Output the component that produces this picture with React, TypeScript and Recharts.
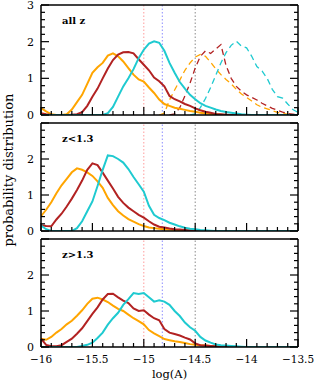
import React from "react";
import { LineChart, Line, XAxis, YAxis, ReferenceLine } from "recharts";

// log(A) grid, step 0.05
const X = [
  -16, -15.95, -15.9, -15.85, -15.8, -15.75, -15.7, -15.65, -15.6, -15.55,
  -15.5, -15.45, -15.4, -15.35, -15.3, -15.25, -15.2, -15.15, -15.1, -15.05,
  -15, -14.95, -14.9, -14.85, -14.8, -14.75, -14.7, -14.65, -14.6, -14.55,
  -14.5, -14.45, -14.4, -14.35, -14.3, -14.25, -14.2, -14.15, -14.1, -14.05,
  -14, -13.95, -13.9, -13.85, -13.8, -13.75, -13.7, -13.65, -13.6, -13.55,
  -13.5,
];

// all z
const O1 = [
  0.19, 0.1, 0.02, 0, 0, 0.02, 0.15, 0.35, 0.55, 0.85,
  1.15, 1.3, 1.42, 1.62, 1.68, 1.6, 1.46, 1.28, 1.1, 0.97,
  0.91, 0.75, 0.6, 0.42, 0.3, 0.25, 0.2, 0.17, 0.14, 0.11,
  0.09, 0.06, 0.04, 0.03, 0.02, 0.01, 0, 0, 0, 0,
  0, 0, 0, 0, 0, 0, 0, 0, 0, 0, 0,
];
const R1 = [
  0.05, 0.02, 0, 0, 0, 0, 0.01, 0.02, 0.08, 0.25,
  0.5, 0.72, 1.0, 1.27, 1.5, 1.65, 1.71, 1.72, 1.68, 1.52,
  1.37, 1.22, 1.02, 0.92, 0.78, 0.52, 0.43, 0.37, 0.3, 0.25,
  0.18, 0.13, 0.09, 0.06, 0.03, 0.02, 0.01, 0, 0, 0,
  0, 0, 0, 0, 0, 0, 0, 0, 0, 0, 0,
];
const C1 = [
  0, 0, 0, 0, 0, 0, 0, 0, 0, 0,
  0, 0, 0, 0.05, 0.22, 0.5, 0.78, 1.0, 1.25, 1.55,
  1.78, 1.95, 2.01, 1.97, 1.75, 1.42, 1.15, 0.9, 0.72, 0.55,
  0.43, 0.32, 0.25, 0.2, 0.15, 0.11, 0.08, 0.06, 0.04, 0.02,
  0.01, 0, 0, 0, 0, 0, 0, 0, 0, 0, 0,
];
const OD1 = [
  null, null, null, null, null, null, null, null, null, null,
  null, null, null, null, null, null, null, null, null, null,
  null, null, null, 0, 0.05, 0.41, 0.68, 0.95, 1.22, 1.42,
  1.58, 1.65, 1.6, 1.44, 1.26, 1.1, 0.97, 0.85, 0.7, 0.57,
  0.48, 0.38, 0.28, 0.21, 0.17, 0.12, 0.07, 0.04, 0.02, 0.01, 0,
];
const RD1 = [
  null, null, null, null, null, null, null, null, null, null,
  null, null, null, null, null, null, null, null, null, null,
  null, null, null, null, null, 0, 0.03, 0.2, 0.52, 0.87,
  1.28, 1.6, 1.75, 1.68, 1.8, 1.92, 1.35, 1.0, 0.78, 0.65,
  0.55, 0.48, 0.41, 0.32, 0.25, 0.18, 0.13, 0.08, 0.04, 0.02, 0,
];
const CD1 = [
  null, null, null, null, null, null, null, null, null, null,
  null, null, null, null, null, null, null, null, null, null,
  null, null, null, null, null, null, null, null, null, 0,
  0.03, 0.2, 0.45, 0.75, 1.08, 1.42, 1.7, 1.9, 2.01, 1.88,
  1.83, 1.6, 1.32, 1.2, 1.0, 0.7, 0.5, 0.46, 0.3, 0.15, 0.07,
];

// z<1.3
const O2 = [
  0.41, 0.59, 0.8, 1.05, 1.27, 1.45, 1.63, 1.74, 1.7, 1.63,
  1.53, 1.38, 1.2, 0.92, 0.72, 0.55, 0.43, 0.33, 0.26, 0.19,
  0.14, 0.1, 0.08, 0.06, 0.05, 0.04, 0.03, 0.02, 0.02, 0.01,
  0, 0, 0, 0, 0, 0, 0, 0, 0, 0,
  0, 0, 0, 0, 0, 0, 0, 0, 0, 0, 0,
];
const R2 = [
  0.16, 0.14, 0.13, 0.32, 0.48, 0.68, 0.9, 1.14, 1.4, 1.7,
  1.88, 1.83, 1.62, 1.4, 1.18, 0.95, 0.78, 0.65, 0.55, 0.45,
  0.37, 0.27, 0.18, 0.12, 0.1, 0.07, 0.05, 0.04, 0.03, 0.02,
  0.01, 0, 0, 0, 0, 0, 0, 0, 0, 0,
  0, 0, 0, 0, 0, 0, 0, 0, 0, 0, 0,
];
const C2 = [
  0.15, 0.05, 0, 0, 0, 0, 0, 0.08, 0.27, 0.55,
  0.82, 1.25, 1.7, 2.1, 2.08, 2.0, 1.9, 1.72, 1.5, 1.3,
  1.09, 0.7, 0.45, 0.36, 0.3, 0.23, 0.18, 0.13, 0.09, 0.06,
  0.05, 0.03, 0.02, 0.01, 0, 0, 0, 0, 0, 0,
  0, 0, 0, 0, 0, 0, 0, 0, 0, 0, 0,
];

// z>1.3
const O3 = [
  0.23, 0.2, 0.28, 0.4, 0.5, 0.63, 0.73, 0.87, 1.02, 1.2,
  1.34, 1.37, 1.32, 1.25, 1.15, 1.06, 1.0, 0.9, 0.8, 0.72,
  0.63, 0.47, 0.38, 0.3, 0.22, 0.19, 0.16, 0.14, 0.11, 0.08,
  0.06, 0.05, 0.04, 0.03, 0.02, 0.01, 0, 0, 0, 0,
  0, 0, 0, 0, 0, 0, 0, 0, 0, 0, 0,
];
const R3 = [
  0.23, 0.06, 0.02, 0.02, 0.05, 0.14, 0.23, 0.37, 0.52, 0.72,
  0.92, 1.1, 1.32, 1.47, 1.48, 1.38, 1.29, 1.22, 1.07, 1.0,
  1.02, 0.9, 0.8, 0.74, 0.5, 0.4, 0.36, 0.32, 0.26, 0.21,
  0.1, 0.05, 0.04, 0.03, 0.02, 0.01, 0, 0, 0, 0,
  0, 0, 0, 0, 0, 0, 0, 0, 0, 0, 0,
];
const C3 = [
  0, 0, 0, 0, 0, 0, 0, 0, 0.03, 0.06,
  0.12, 0.25, 0.4, 0.62, 0.8, 0.95, 1.17, 1.33, 1.5, 1.47,
  1.5, 1.38, 1.26, 1.3, 1.26, 1.17, 1.0, 0.86, 0.68, 0.55,
  0.45, 0.28, 0.18, 0.12, 0.07, 0.05, 0.04, 0.03, 0.02, 0.01,
  0, 0, 0, 0, 0, 0, 0, 0, 0, 0, 0,
];

const X_TICKS = [
  -16, -15.9, -15.8, -15.7, -15.6, -15.5, -15.4, -15.3, -15.2, -15.1,
  -15, -14.9, -14.8, -14.7, -14.6, -14.5, -14.4, -14.3, -14.2, -14.1,
  -14, -13.9, -13.8, -13.7, -13.6, -13.5,
];
const Y_TICKS = [0, 0.2, 0.4, 0.6, 0.8, 1, 1.2, 1.4, 1.6, 1.8, 2, 2.2, 2.4, 2.6, 2.8, 3];
const MARKERS = [-15, -14.82, -14.5];

const ORANGE = "#ffa500";
const RED = "#b22222";
const CYAN = "#1fcad0";
const MARKER_COLORS = ["#ff9c9c", "#8c8cff", "#8a8a8a"];
const SERIF = "'DejaVu Serif', 'Liberation Serif', serif";

const isMultiple = (v: number, step: number) => Math.abs(v / step - Math.round(v / step)) < 1e-6;
const fmt = (v: number) => String(v).replace("-", "\u2212");

const MAJ = 8;
const MIN = 4;

function BottomTick(props: any) {
  const { x, y, payload, showLabel } = props;
  const major = isMultiple(payload.value, 0.5);
  return (
    <g>
      <line x1={x} x2={x} y1={y} y2={y - (major ? MAJ : MIN)} stroke="#000" strokeWidth={1.2} />
      {showLabel && major && (
        <text x={x} y={y + 16} textAnchor="middle" fontFamily={SERIF} fontSize={10.5} fill="#000">
          {fmt(payload.value)}
        </text>
      )}
    </g>
  );
}

function TopTick(props: any) {
  const { x, y, payload } = props;
  const major = isMultiple(payload.value, 0.5);
  return <line x1={x} x2={x} y1={y} y2={y + (major ? MAJ : MIN)} stroke="#000" strokeWidth={1.2} />;
}

function LeftTick(props: any) {
  const { x, y, payload, labels } = props;
  const major = isMultiple(payload.value, 1);
  return (
    <g>
      <line x1={x} x2={x + (major ? MAJ : MIN)} y1={y} y2={y} stroke="#000" strokeWidth={1.2} />
      {major && labels.includes(payload.value) && (
        <text x={x - 7} y={y + 4} textAnchor="end" fontFamily={SERIF} fontSize={11} fill="#000">
          {payload.value}
        </text>
      )}
    </g>
  );
}

function RightTick(props: any) {
  const { x, y, payload } = props;
  const major = isMultiple(payload.value, 1);
  return <line x1={x} x2={x - (major ? MAJ : MIN)} y1={y} y2={y} stroke="#000" strokeWidth={1.2} />;
}

type Panel = {
  o: (number | null)[];
  r: (number | null)[];
  c: (number | null)[];
  od?: (number | null)[];
  rd?: (number | null)[];
  cd?: (number | null)[];
};

function PanelChart({
  series, label, yLabels, showX, top, height, margin,
}: {
  series: Panel; label: string; yLabels: number[]; showX: boolean; top: number; height: number;
  margin: { top: number; right: number; bottom: number; left: number };
}) {
  const data = X.map((x, i) => ({
    x,
    o: series.o[i], r: series.r[i], c: series.c[i],
    od: series.od ? series.od[i] : null,
    rd: series.rd ? series.rd[i] : null,
    cd: series.cd ? series.cd[i] : null,
  }));
  const axisLine = { stroke: "#000", strokeWidth: 1.5 };
  return (
    <div style={{ position: "absolute", left: 0, top, width: 318, height }}>
      <LineChart width={318} height={height} data={data} margin={margin}>
        <XAxis dataKey="x" type="number" domain={[-16, -13.5]} allowDataOverflow ticks={X_TICKS} interval={0}
          height={1} tickSize={0} tickMargin={0} tickLine={false} axisLine={axisLine}
          tick={(p: any) => <BottomTick {...p} showLabel={showX} />} />
        <XAxis xAxisId="t" orientation="top" type="number" domain={[-16, -13.5]} allowDataOverflow ticks={X_TICKS}
          interval={0} height={1} tickSize={0} tickMargin={0} tickLine={false} axisLine={axisLine}
          tick={(p: any) => <TopTick {...p} />} />
        <YAxis type="number" domain={[0, 3]} allowDataOverflow ticks={Y_TICKS} interval={0} width={1}
          tickSize={0} tickMargin={0} tickLine={false} axisLine={axisLine}
          tick={(p: any) => <LeftTick {...p} labels={yLabels} />} />
        <YAxis yAxisId="r" orientation="right" type="number" domain={[0, 3]} allowDataOverflow ticks={Y_TICKS}
          interval={0} width={1} tickSize={0} tickMargin={0} tickLine={false} axisLine={axisLine}
          tick={(p: any) => <RightTick {...p} />} />
        {MARKERS.map((m, i) => (
          <ReferenceLine key={m} x={m} stroke={MARKER_COLORS[i]} strokeWidth={1} strokeDasharray="1.5 2" />
        ))}
        {series.od && <Line dataKey="od" stroke={ORANGE} strokeWidth={1.3} strokeDasharray="6 4" dot={false} isAnimationActive={false} />}
        {series.rd && <Line dataKey="rd" stroke={RED} strokeWidth={1.3} strokeDasharray="6 4" dot={false} isAnimationActive={false} />}
        {series.cd && <Line dataKey="cd" stroke={CYAN} strokeWidth={1.3} strokeDasharray="6 4" dot={false} isAnimationActive={false} />}
        <Line dataKey="o" stroke={ORANGE} strokeWidth={2} dot={false} isAnimationActive={false} />
        <Line dataKey="r" stroke={RED} strokeWidth={2} dot={false} isAnimationActive={false} />
        <Line dataKey="c" stroke={CYAN} strokeWidth={2} dot={false} isAnimationActive={false} />
      </LineChart>
      <div style={{ position: "absolute", left: 62, top: margin.top + 11, fontFamily: SERIF, fontWeight: "bold", fontSize: 10, lineHeight: "11px" }}>
        {label}
      </div>
    </div>
  );
}

export default function App() {
  return (
    <div style={{ position: "absolute", left: 0, top: 0, width: 318, height: 385, background: "#fff" }}>
      <PanelChart series={{ o: O1, r: R1, c: C1, od: OD1, rd: RD1, cd: CD1 }} label="all z" yLabels={[0, 1, 2, 3]}
        showX={false} top={0} height={126} margin={{ top: 4, right: 19, bottom: 10, left: 40 }} />
      <PanelChart series={{ o: O2, r: R2, c: C2 }} label="z<1.3" yLabels={[0, 1, 2]}
        showX={false} top={119} height={123} margin={{ top: 3, right: 19, bottom: 10, left: 40 }} />
      <PanelChart series={{ o: O3, r: R3, c: C3 }} label="z>1.3" yLabels={[0, 1, 2]}
        showX={true} top={235} height={150} margin={{ top: 3, right: 19, bottom: 37, left: 40 }} />
      <div style={{ position: "absolute", left: 0, top: 368, width: 339, textAlign: "center", fontFamily: SERIF, fontSize: 11.5, lineHeight: "13px" }}>
        log(A)
      </div>
      <div style={{ position: "absolute", left: 8, top: 170, width: 0, height: 0 }}>
        <div style={{ position: "absolute", left: 0, top: 0, transform: "translate(-50%, -50%) rotate(-90deg)", whiteSpace: "nowrap", fontFamily: SERIF, fontSize: 13, lineHeight: "13px" }}>
          probability distribution
        </div>
      </div>
    </div>
  );
}
